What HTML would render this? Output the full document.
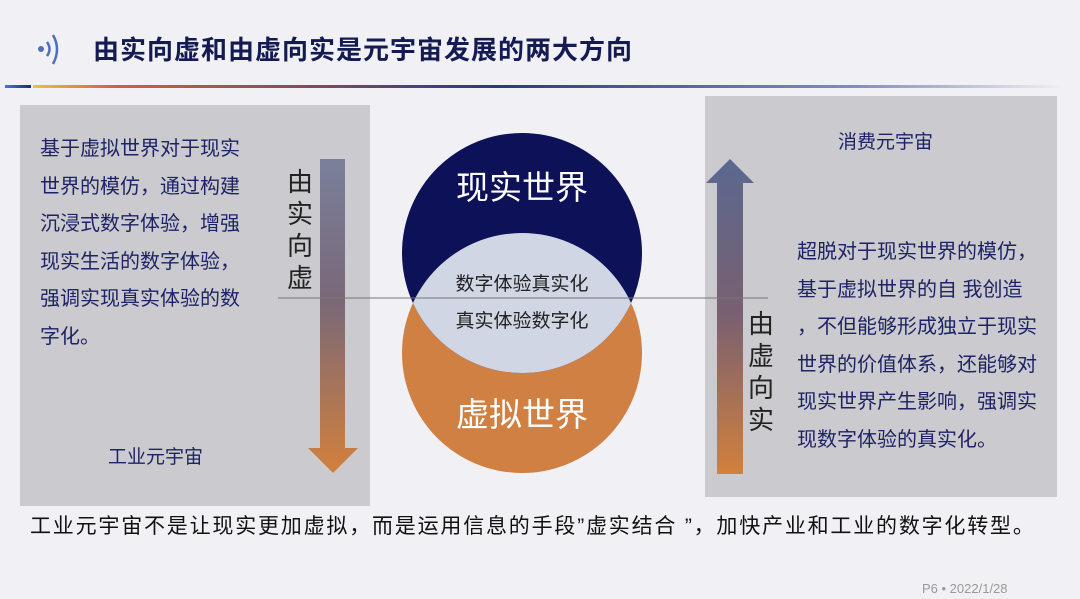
<!DOCTYPE html>
<html><head><meta charset="utf-8"><style>
body{margin:0;width:1080px;height:599px;background:#f1f0f4;position:relative;overflow:hidden;font-family:"Liberation Sans","Noto Sans CJK SC",sans-serif;}
.a{position:absolute;}
.t{color:#1e2366;font-size:20px;line-height:37.5px;white-space:nowrap;}
.v{color:#222;font-size:26px;line-height:32px;width:30px;text-align:center;}
</style></head><body>
<div class="a" style="left:93px;top:30px;font-size:26px;font-weight:bold;color:#141b52;letter-spacing:1px">由实向虚和由虚向实是元宇宙发展的两大方向</div>
<svg class="a" style="left:30px;top:30px" width="40" height="40"><circle cx="11" cy="19" r="3" fill="#4a6fc0"/><path d="M17 12 Q22 19 17 26" stroke="#4a6fc0" stroke-width="2.5" fill="none"/><path d="M23 5 Q31 19 23 34" stroke="#4a6fc0" stroke-width="2.5" fill="none"/></svg>
<div class="a" style="left:5px;top:85px;width:26px;height:3px;background:linear-gradient(90deg,#3d7ad0,#1a2a80)"></div>
<div class="a" style="left:33px;top:85px;width:1030px;height:3px;background:linear-gradient(90deg,#f0c040,#d06040 8%,#2a3a80 45%,#8090b8 80%,rgba(240,240,244,0))"></div>

<div class="a" style="left:20px;top:105px;width:350px;height:401px;background:#cbcace"></div>
<div class="a" style="left:705px;top:96px;width:352px;height:401px;background:#cbcace"></div>

<div class="a t" style="left:40px;top:131px">基于虚拟世界对于现实<br>世界的模仿，通过构建<br>沉浸式数字体验，增强<br>现实生活的数字体验，<br>强调实现真实体验的数<br>字化。</div>
<div class="a t" style="left:108px;top:439px;font-size:19px">工业元宇宙</div>
<div class="a t" style="left:838px;top:124px;font-size:19px">消费元宇宙</div>
<div class="a t" style="left:797px;top:234px">超脱对于现实世界的模仿，<br>基于虚拟世界的自 我创造<br>，不但能够形成独立于现实<br>世界的价值体系，还能够对<br>现实世界产生影响，强调实<br>现数字体验的真实化。</div>

<svg class="a" style="left:0;top:0" width="1080" height="599">
<defs>
<linearGradient id="gd" x1="0" y1="0" x2="0" y2="1"><stop offset="0" stop-color="#7a809c"/><stop offset="0.45" stop-color="#7a6878"/><stop offset="1" stop-color="#d2803c"/></linearGradient>
<linearGradient id="gu" x1="0" y1="0" x2="0" y2="1"><stop offset="0" stop-color="#5a6890"/><stop offset="0.5" stop-color="#7a6070"/><stop offset="1" stop-color="#d2803c"/></linearGradient>
<clipPath id="c1"><circle cx="522" cy="253" r="120"/></clipPath>
</defs>
<path d="M320 159 H345 V448 H358 L333 473 L308 448 H320 Z" fill="url(#gd)"/>
<path d="M717 474 V183 H706 L730 159 L754 183 H743 V474 Z" fill="url(#gu)"/>
<circle cx="522" cy="353" r="120" fill="#d08042"/>
<circle cx="522" cy="253" r="120" fill="#0d1157"/>
<circle cx="522" cy="353" r="120" fill="#d0d6e4" clip-path="url(#c1)"/>
<line x1="278" y1="298" x2="768" y2="298" stroke="#777" stroke-width="1"/>
<text x="522" y="199" text-anchor="middle" font-size="33" fill="#fff" font-family="Liberation Sans,Noto Sans CJK SC,sans-serif">现实世界</text>
<text x="522" y="426" text-anchor="middle" font-size="33" fill="#fff" font-family="Liberation Sans,Noto Sans CJK SC,sans-serif">虚拟世界</text>
<text x="522" y="290" text-anchor="middle" font-size="19" fill="#222" font-family="Liberation Sans,Noto Sans CJK SC,sans-serif">数字体验真实化</text>
<text x="522" y="327" text-anchor="middle" font-size="19" fill="#222" font-family="Liberation Sans,Noto Sans CJK SC,sans-serif">真实体验数字化</text>
</svg>
<div class="a v" style="left:285px;top:166px">由<br>实<br>向<br>虚</div>
<div class="a v" style="left:746px;top:308px">由<br>虚<br>向<br>实</div>

<div class="a" style="left:30px;top:510px;font-size:21px;letter-spacing:1.8px;color:#111;white-space:nowrap">工业元宇宙不是让现实更加虚拟，而是运用信息的手段”虚实结合 ”，加快产业和工业的数字化转型。</div>
<div class="a" style="left:922px;top:581px;font-size:13px;color:#999">P6 • 2022/1/28</div>
</body></html>
